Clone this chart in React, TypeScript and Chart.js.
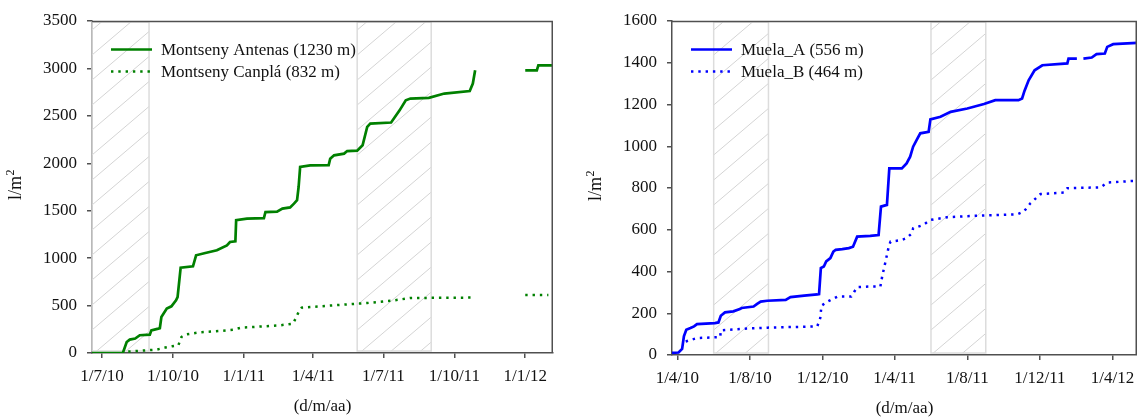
import { useEffect, useRef } from "react";
import { Chart, registerables } from "chart.js";

Chart.register(...registerables);

const FONT = "'Liberation Serif', 'Times New Roman', Times, serif";
const DAY_MS = 86400000;

// ---- Montseny: cumulative precipitation (l/m²) ----
const antenasDates = [
  "2010-06-18", "2010-07-28", "2010-08-02", "2010-08-06", "2010-08-13", "2010-08-19",
  "2010-09-01", "2010-09-03", "2010-09-12", "2010-09-14", "2010-09-16", "2010-09-23",
  "2010-09-29", "2010-10-05", "2010-10-07", "2010-10-11", "2010-10-27", "2010-10-31",
  "2010-11-12", "2010-11-27", "2010-12-10", "2010-12-14", "2010-12-21", "2010-12-22",
  "2011-01-05", "2011-01-27", "2011-01-29", "2011-02-13", "2011-02-20", "2011-03-02",
  "2011-03-07", "2011-03-11", "2011-03-13", "2011-03-15", "2011-03-28", "2011-04-21",
  "2011-04-23", "2011-04-28", "2011-05-11", "2011-05-15", "2011-05-28", "2011-06-04",
  "2011-06-10", "2011-06-14", "2011-07-11", "2011-07-22", "2011-07-30", "2011-08-05",
  "2011-08-29", "2011-09-18", "2011-10-21", "2011-10-25", "2011-10-28", "2011-11-15",
  "2012-01-01", "2012-01-16", "2012-01-18", "2012-02-06",
];
const antenasValues: (number | null)[] = [
  0, 0, 116, 141, 152, 187,
  194, 239, 257, 262, 380, 468,
  492, 555, 590, 900, 914, 1030,
  1054, 1083, 1135, 1170, 1177, 1400,
  1417, 1422, 1486, 1490, 1522, 1535,
  1575, 1610, 1750, 1961, 1978, 1980,
  2049, 2084, 2102, 2129, 2133, 2190,
  2383, 2418, 2430, 2558, 2664, 2682,
  2690, 2735, 2762, 2840, 2980, null,
  2980, 2980, 3033, 3033,
];
const canplaDates = [
  "2010-08-04", "2010-09-10", "2010-09-21", "2010-09-30", "2010-10-08", "2010-10-12",
  "2010-10-17", "2010-11-05", "2010-12-01", "2010-12-18", "2010-12-29", "2011-01-13",
  "2011-02-17", "2011-03-06", "2011-03-13", "2011-03-17", "2011-04-28", "2011-06-10",
  "2011-07-15", "2011-08-05", "2011-10-23", "2011-11-15", "2012-01-01", "2012-01-31",
];
const canplaValues: (number | null)[] = [
  15, 36, 57, 71, 81, 169,
  194, 218, 232, 246, 268, 274,
  292, 310, 432, 478, 503, 527,
  555, 580, 584, null, 611, 611,
];
const montsenyTicks = ["2010-07-01", "2010-10-01", "2011-01-01", "2011-04-01", "2011-07-01", "2011-10-01", "2012-01-01"];
const montsenyRange: [string, string] = ["2010-06-18", "2012-02-06"];
const montsenySummers: [string, string][] = [["2010-06-01", "2010-08-31"], ["2011-05-28", "2011-09-01"]];

// ---- Muela: cumulative precipitation (l/m²) ----
const muelaADates = [
  "2010-03-23", "2010-04-03", "2010-04-09", "2010-04-12", "2010-04-16", "2010-04-23",
  "2010-04-29", "2010-05-04", "2010-06-03", "2010-06-09", "2010-06-13", "2010-06-20",
  "2010-07-04", "2010-07-15", "2010-07-18", "2010-08-07", "2010-08-13", "2010-08-19",
  "2010-08-30", "2010-09-30", "2010-10-08", "2010-10-31", "2010-11-22", "2010-11-25",
  "2010-11-28", "2010-12-03", "2010-12-07", "2010-12-14", "2010-12-19", "2010-12-23",
  "2011-01-03", "2011-01-14", "2011-01-21", "2011-01-28", "2011-02-19", "2011-03-05",
  "2011-03-09", "2011-03-19", "2011-03-23", "2011-04-13", "2011-04-21", "2011-04-27",
  "2011-05-02", "2011-05-08", "2011-05-14", "2011-05-28", "2011-05-31", "2011-06-17",
  "2011-07-04", "2011-08-01", "2011-08-29", "2011-09-17", "2011-10-26", "2011-11-01",
  "2011-11-05", "2011-11-12", "2011-11-22", "2011-12-05", "2012-01-16", "2012-01-18",
  "2012-02-01", "2012-02-06", "2012-02-12", "2012-02-26", "2012-03-05", "2012-03-19",
  "2012-03-23", "2012-04-02", "2012-05-12",
];
const muelaAValues: (number | null)[] = [
  10, 12, 29, 89, 121, 129,
  137, 148, 153, 156, 188, 204,
  209, 220, 225, 232, 245, 256,
  260, 264, 277, 284, 290, 292,
  416, 424, 448, 464, 495, 504,
  507, 512, 519, 567, 571, 575,
  711, 719, 894, 894, 918, 950,
  998, 1030, 1062, 1069, 1129, 1141,
  1165, 1181, 1202, 1221, 1221, 1229,
  1265, 1316, 1364, 1388, 1397, 1420,
  1420, null, 1420, 1425, 1441, 1444,
  1476, 1489, 1495,
];
const muelaBDates = [
  "2010-04-15", "2010-04-23", "2010-05-04", "2010-06-12", "2010-06-13", "2010-06-26",
  "2010-07-22", "2010-08-30", "2010-11-22", "2010-11-27", "2010-11-29", "2010-12-09",
  "2010-12-26", "2011-01-18", "2011-01-28", "2011-02-19", "2011-03-08", "2011-03-11",
  "2011-03-16", "2011-03-22", "2011-03-25", "2011-04-13", "2011-04-21", "2011-04-30",
  "2011-05-02", "2011-05-19", "2011-05-31", "2011-06-28", "2011-08-06", "2011-10-24",
  "2011-11-04", "2011-11-15", "2011-12-02", "2012-01-10", "2012-01-16", "2012-03-12",
  "2012-03-23", "2012-05-07",
];
const muelaBValues: (number | null)[] = [
  65, 72, 81, 86, 118, 121,
  126, 131, 137, 177, 236, 256,
  280, 280, 325, 328, 328, 376,
  440, 519, 543, 551, 560, 583,
  607, 623, 647, 660, 666, 674,
  687, 727, 771, 778, 799, 803,
  826, 834,
];
const muelaTicks = ["2010-04-01", "2010-08-01", "2010-12-01", "2011-04-01", "2011-08-01", "2011-12-01", "2012-04-01"];
const muelaRange: [string, string] = ["2010-03-23", "2012-05-12"];
const muelaSummers: [string, string][] = [["2010-06-01", "2010-09-01"], ["2011-06-01", "2011-09-01"]];

const GREEN = "#008000";
const BLUE = "#0000ff";
const AXIS = "#505050";
const DOT_DASH = [2.4, 4.9];

const toDay = (s: string) =>
  Date.UTC(+s.slice(0, 4), +s.slice(5, 7) - 1, +s.slice(8, 10)) / DAY_MS;

const fmtDay = (v: number) => {
  const d = new Date(v * DAY_MS);
  return `${d.getUTCDate()}/${d.getUTCMonth() + 1}/${String(d.getUTCFullYear() % 100).padStart(2, "0")}`;
};

type Series = {
  label: string;
  dates: string[];
  values: (number | null)[];
  color: string;
  dotted: boolean;
};

type PanelSpec = {
  left: number;
  width: number;
  series: Series[];
  range: [string, string];
  ticks: string[];
  yMax: number;
  yStep: number;
  yAxisWidth: number;
  xAxisHeight: number;
  padRight: number;
  summers: [string, string][];
  xTitlePad: number;
  yTitleBaseline: number;
};

// Summer periods: light frame with diagonal hatching
const summerHatch = {
  id: "summerHatch",
  beforeDatasetsDraw(chart: any, _args: any, opts: any) {
    const { ctx, chartArea: a, scales } = chart;
    const x = scales.x;
    ctx.save();
    for (const [s, e] of opts.ranges as [string, string][]) {
      const x1 = Math.max(a.left, x.getPixelForValue(toDay(s)));
      const x2 = Math.min(a.right, x.getPixelForValue(toDay(e)));
      const top = a.top + 1;
      const bottom = a.bottom - 2;
      const w = x2 - x1;
      ctx.save();
      ctx.beginPath();
      ctx.rect(x1, top, w, bottom - top);
      ctx.clip();
      ctx.strokeStyle = "#d4d4d4";
      ctx.lineWidth = 1;
      ctx.beginPath();
      const k = opts.slope;
      const gap = opts.gap;
      for (let c = top + 8; c < bottom + k * w + gap; c += gap) {
        ctx.moveTo(x1, c);
        ctx.lineTo(x2, c - k * w);
      }
      ctx.stroke();
      ctx.restore();
      ctx.strokeStyle = "#dcdcdc";
      ctx.lineWidth = 1.5;
      ctx.strokeRect(x1, top, w, bottom - top);
    }
    ctx.restore();
  },
};

// Top and right edges of the plot frame
const plotFrame = {
  id: "plotFrame",
  afterDraw(chart: any) {
    const { ctx, chartArea: a } = chart;
    ctx.save();
    ctx.strokeStyle = AXIS;
    ctx.lineWidth = 1.5;
    ctx.beginPath();
    ctx.moveTo(a.left, a.top + 0.5);
    ctx.lineTo(a.right - 0.75, a.top + 0.5);
    ctx.lineTo(a.right - 0.75, a.bottom);
    ctx.stroke();
    ctx.restore();
  },
};

// Rotated y-axis title "l/m" with a raised "2"
const unitTitle = {
  id: "unitTitle",
  afterDraw(chart: any, _args: any, opts: any) {
    const { ctx, chartArea: a } = chart;
    ctx.save();
    ctx.fillStyle = "#111";
    ctx.textBaseline = "alphabetic";
    ctx.textAlign = "left";
    ctx.font = `18px ${FONT}`;
    const main = "l/m";
    const wMain = ctx.measureText(main).width;
    ctx.font = `12px ${FONT}`;
    const wSup = ctx.measureText("2").width;
    const total = wMain + wSup;
    ctx.translate(opts.baseline, (a.top + a.bottom) / 2 - 2);
    ctx.rotate(-Math.PI / 2);
    ctx.font = `18px ${FONT}`;
    ctx.fillText(main, -total / 2, 0);
    ctx.font = `12px ${FONT}`;
    ctx.fillText("2", -total / 2 + wMain + 0.5, -7);
    ctx.restore();
  },
};

// Legend drawn inside the plot, top-left
const insetLegend = {
  id: "insetLegend",
  afterDatasetsDraw(chart: any) {
    const { ctx, chartArea: a } = chart;
    ctx.save();
    chart.data.datasets.forEach((ds: any, i: number) => {
      const y = a.top + 28.5 + i * 22;
      ctx.strokeStyle = ds.borderColor;
      ctx.lineWidth = ds.borderWidth;
      ctx.lineCap = "butt";
      ctx.setLineDash(ds.borderDash || []);
      ctx.beginPath();
      ctx.moveTo(a.left + 19, y);
      ctx.lineTo(a.left + 60, y);
      ctx.stroke();
      ctx.setLineDash([]);
      ctx.fillStyle = "#111";
      ctx.font = `17px ${FONT}`;
      ctx.textBaseline = "middle";
      ctx.textAlign = "left";
      ctx.fillText(ds.label, a.left + 69, y + 1);
    });
    ctx.restore();
  },
};

function Panel({ spec }: { spec: PanelSpec }) {
  const ref = useRef<HTMLCanvasElement | null>(null);

  useEffect(() => {
    if (!ref.current) return;
    const tickDays = spec.ticks.map(toDay);
    const chart = new Chart(ref.current, {
      type: "line",
      data: {
        datasets: spec.series.map((s) => ({
          label: s.label,
          data: s.dates.map((d, i) => ({ x: toDay(d), y: s.values[i] })),
          borderColor: s.color,
          backgroundColor: s.color,
          borderWidth: s.dotted ? 2.5 : 2.7,
          borderDash: s.dotted ? DOT_DASH : [],
          borderCapStyle: "butt",
          pointRadius: 0,
          tension: 0,
          spanGaps: false,
          fill: false,
        })) as any,
      },
      options: {
        responsive: false,
        animation: false,
        devicePixelRatio: 1,
        layout: { padding: { top: 21, right: spec.padRight, left: 0, bottom: 0 } },
        plugins: {
          legend: { display: false },
          tooltip: { enabled: false },
          summerHatch: { ranges: spec.summers, slope: 0.85, gap: 25 },
          unitTitle: { baseline: spec.yTitleBaseline },
        } as any,
        scales: {
          x: {
            type: "linear",
            min: toDay(spec.range[0]),
            max: toDay(spec.range[1]),
            afterBuildTicks: (scale: any) => {
              scale.ticks = tickDays.map((v) => ({ value: v }));
            },
            afterFit: (scale: any) => {
              scale.height = spec.xAxisHeight;
              scale.paddingLeft = 0;
              scale.paddingRight = 0;
            },
            ticks: {
              callback: (v: any) => fmtDay(Number(v)),
              color: "#111",
              font: { family: FONT, size: 17 },
              padding: 8,
              maxRotation: 0,
              autoSkip: false,
            },
            grid: {
              drawOnChartArea: false,
              drawTicks: true,
              tickLength: 5,
              color: AXIS,
              lineWidth: 1.5,
            },
            border: { display: true, color: AXIS, width: 1.5 },
            title: {
              display: true,
              text: "(d/m/aa)",
              color: "#111",
              font: { family: FONT, size: 17, lineHeight: 1 },
              padding: { top: 0, bottom: spec.xTitlePad },
            },
          },
          y: {
            type: "linear",
            min: 0,
            max: spec.yMax,
            afterFit: (scale: any) => {
              scale.width = spec.yAxisWidth;
              scale.paddingTop = 0;
              scale.paddingBottom = 0;
            },
            ticks: {
              stepSize: spec.yStep,
              callback: (v: any) => String(v),
              color: "#111",
              font: { family: FONT, size: 17 },
              padding: 10,
            },
            grid: {
              drawOnChartArea: false,
              drawTicks: true,
              tickLength: 5,
              color: AXIS,
              lineWidth: 1.5,
            },
            border: { display: true, color: AXIS, width: 1.5 },
          },
        },
      },
      plugins: [summerHatch, insetLegend, plotFrame, unitTitle],
    });
    return () => chart.destroy();
  }, [spec]);

  return (
    <canvas
      ref={ref}
      width={spec.width}
      height={418}
      style={{ position: "absolute", left: spec.left, top: 0, width: spec.width, height: 418 }}
    />
  );
}

const montsenySpec: PanelSpec = {
  left: 0,
  width: 565,
  series: [
    { label: "Montseny Antenas (1230 m)", dates: antenasDates, values: antenasValues, color: GREEN, dotted: false },
    { label: "Montseny Canplá (832 m)", dates: canplaDates, values: canplaValues, color: GREEN, dotted: true },
  ],
  range: montsenyRange,
  ticks: montsenyTicks,
  yMax: 3500,
  yStep: 500,
  yAxisWidth: 92,
  xAxisHeight: 65,
  padRight: 12,
  summers: montsenySummers,
  xTitlePad: 3,
  yTitleBaseline: 20.5,
};

const muelaSpec: PanelSpec = {
  left: 565,
  width: 572,
  series: [
    { label: "Muela_A (556 m)", dates: muelaADates, values: muelaAValues, color: BLUE, dotted: false },
    { label: "Muela_B (464 m)", dates: muelaBDates, values: muelaBValues, color: BLUE, dotted: true },
  ],
  range: muelaRange,
  ticks: muelaTicks,
  yMax: 1600,
  yStep: 200,
  yAxisWidth: 107,
  xAxisHeight: 63,
  padRight: 0,
  summers: muelaSummers,
  xTitlePad: 1,
  yTitleBaseline: 35.5,
};

export default function App() {
  return (
    <div style={{ position: "absolute", left: 0, top: 0, width: 1137, height: 418, background: "#fff" }}>
      <Panel spec={montsenySpec} />
      <Panel spec={muelaSpec} />
    </div>
  );
}
